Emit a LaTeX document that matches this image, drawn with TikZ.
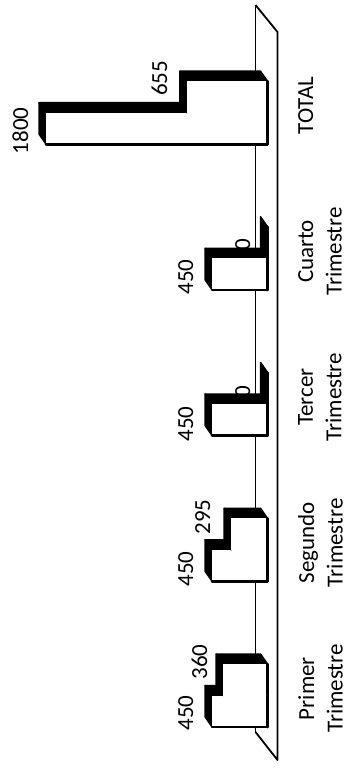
\documentclass[tikz,border=0pt]{standalone}
\usepackage{fontspec}
\setmainfont{Carlito}

% one 3D bar, lying to the left of the floor: value, front top y, front bottom y
\newcommand{\chartbar}[3]{%
	\pgfmathsetmacro{\xl}{267.5-0.123*#1}
	\filldraw[face] (\xl,#2) -- (267.5,#2) -- (260.5,#2-10) -- (\xl-7,#2-10) -- cycle;
	\filldraw[face] (\xl,#2) -- (\xl,#3) -- (\xl-7,#3-10) -- (\xl-7,#2-10) -- cycle;
	\fill[white] (\xl,#2) rectangle (267.5,#3);
	\draw[edge] (267.5,#2) -- (267.5,#3);
}

\begin{document}
\begin{tikzpicture}[
		x=1pt, y=-1pt,
		face/.style={fill=black, draw=black, line width=1.5pt, line join=round},
		edge/.style={draw=black, line width=2.8pt, line cap=round},
		floor/.style={draw=black, line width=1.8pt, line join=round},
		value/.style={rotate=90, anchor=base, inner sep=0pt, font=\fontsize{23}{28}\selectfont},
		category/.style={rotate=90, anchor=north, inner sep=0pt, align=center, font=\fontsize{23}{28.5}\selectfont}
		]
		\useasboundingbox (0,0) rectangle (347,772);
		% floor of the chart
		\draw[floor] (255.5,5) -- (255.5,732);
		\draw[floor] (255.5,5) -- (277.5,32) -- (277.5,760) -- (255.5,732);
		% bars
		\foreach \yb/\va/\vb/\cat [count=\i] in {
			727/450/360/{Primer\\Trimestre},
			581.3/450/295/{Segundo\\Trimestre},
			435.6/450/0/{Tercer\\Trimestre},
			289.9/450/0/{Cuarto\\Trimestre},
			144.2/1800/655/{TOTAL}} {
			\chartbar{\va}{\yb-31.5}{\yb}
			\chartbar{\vb}{\yb-63}{\yb-31.5}
			\draw[edge] (267.5-0.123*\va,\yb) -- (267.5,\yb);
			\node[category] (cat\i) at (298,\yb-38.5) {\cat};
		}
		% data labels
		\node[value] (v1a) at (193,713) {450};
		\node[value] (v1b) at (207,662) {360};
		\node[value] (v2a) at (193,569) {450};
		\node[value] (v2b) at (210,517) {295};
		\node[value] (v3a) at (193,424) {450};
		\node[value] (v3b) at (250,392) {0};
		\node[value] (v4a) at (193,277) {450};
		\node[value] (v4b) at (250,244.5) {0};
		\node[value] (v5a) at (28,131) {1800};
		\node[value] (v5b) at (167,78.5) {655};
\end{tikzpicture}
\end{document}
